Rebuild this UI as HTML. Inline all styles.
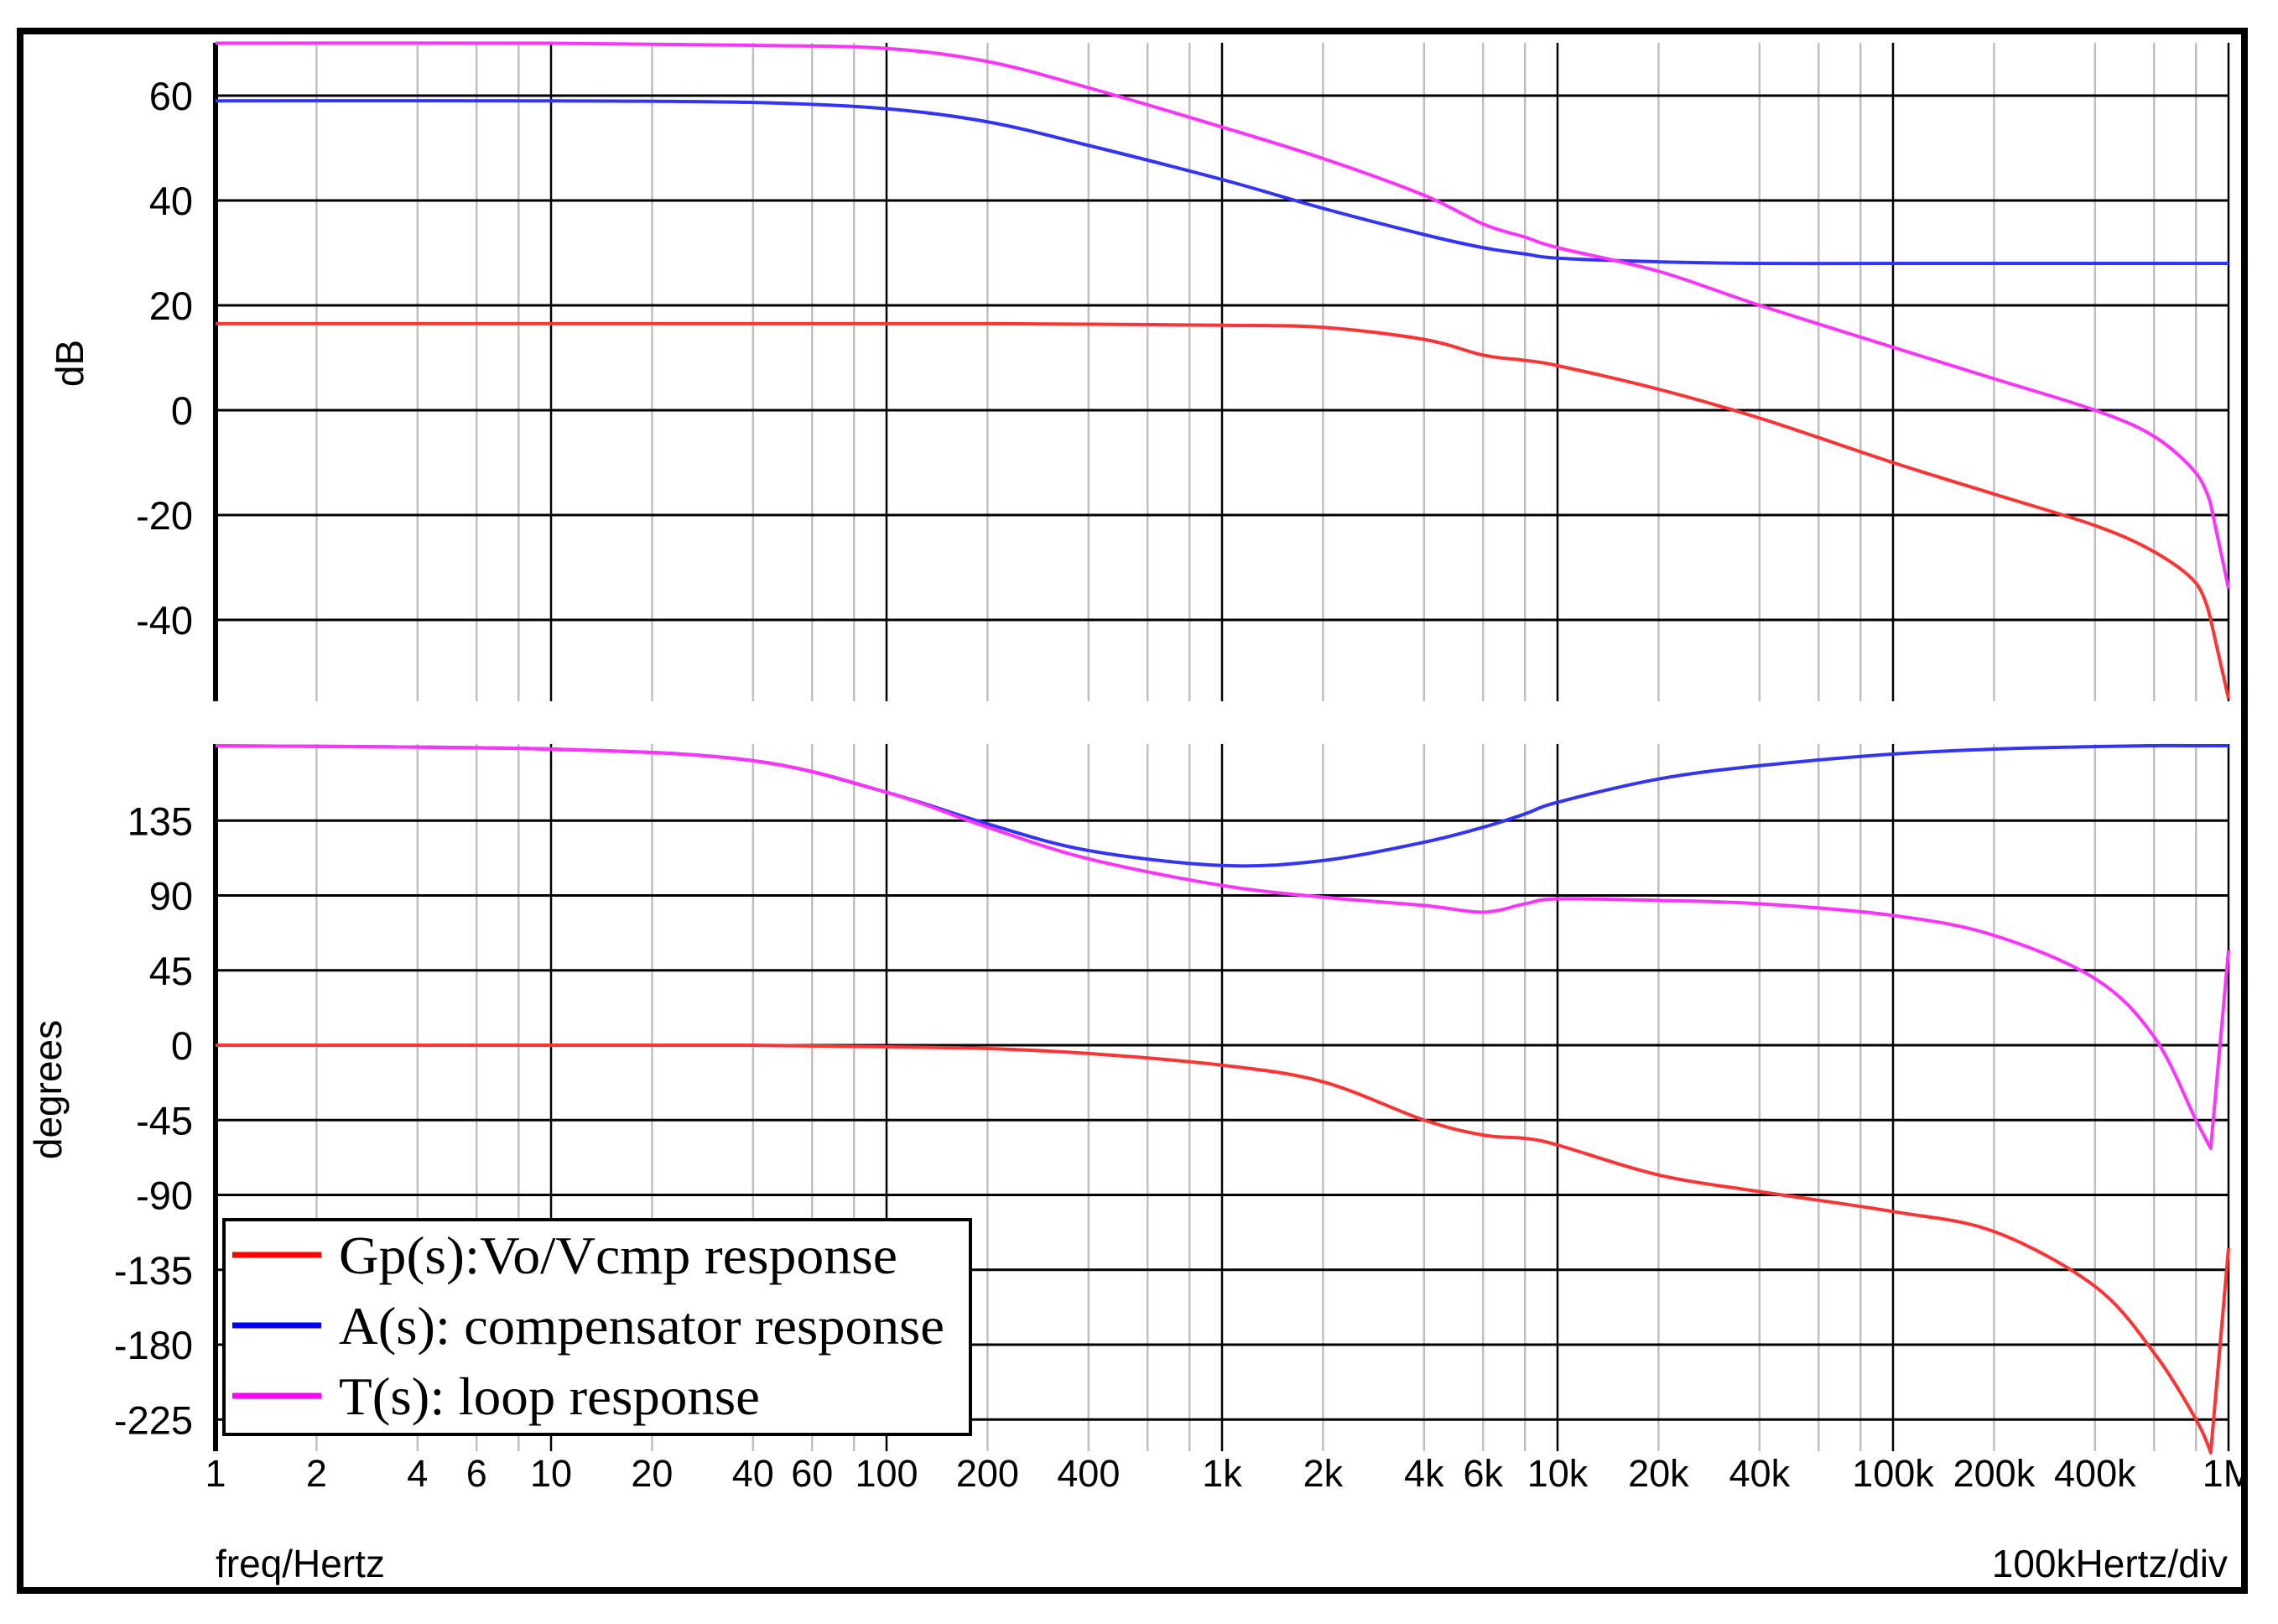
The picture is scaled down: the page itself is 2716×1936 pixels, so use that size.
<!DOCTYPE html>
<html><head><meta charset="utf-8"><style>
html,body{margin:0;padding:0;background:#fff;}
svg{display:block;}
text{font-family:"Liberation Sans",sans-serif;}
</style></head><body>
<svg id="chart" width="2716" height="1936" viewBox="0 0 2716 1936" xmlns="http://www.w3.org/2000/svg">
<defs><clipPath id="frameClip"><rect x="28" y="41" width="2644" height="1851"/></clipPath></defs>
<g id="root" clip-path="url(#frameClip)"></g>
<rect x="24" y="37" width="2652" height="1859" fill="none" stroke="#000" stroke-width="8"/>
</svg>
<script>
// ---- data ----
const freqs = [1,10,40,100,200,400,1000,2000,4000,6000,8000,10000,20000,40000,100000,200000,400000,600000,800000,885000,1000000];
const magT  = [70,70,69.6,69,66.5,61.5,54,48,41,35.5,33,31,26.5,20,12,6,0,-5,-12,-18,-34];
const magA  = [59,59,58.7,57.5,55,50.5,44,38.5,33.5,31,29.8,29,28.3,28,28,28,28,28,28,28,28];
const magG  = [16.5,16.5,16.5,16.5,16.5,16.4,16.2,15.8,13.5,10.5,9.5,8.5,4,-1.5,-10,-16,-22,-27,-33,-40,-55];
const phA   = [180,178,171,152,133,117,108,111,122,131,139,146,160,168,175,178,179.5,180,180,180,180];
const phT   = [180,178,171,152,131,112,96,89,84,80,85,88,87,85,78,66,40,5,-45,-62,57];
const phG   = [0,0,0,-1,-2,-5,-12,-22,-45,-54,-56,-60,-78,-88,-100,-112,-145,-185,-225,-245,-122];
const xTickLabels = ["1","2","4","6","10","20","40","60","100","200","400","1k","2k","4k","6k","10k","20k","40k","100k","200k","400k","1M"];
const xTickValues = [1,2,4,6,10,20,40,60,100,200,400,1000,2000,4000,6000,10000,20000,40000,100000,200000,400000,1000000];
const dbTicks = [60,40,20,0,-20,-40];
const degTicks = [135,90,45,0,-45,-90,-135,-180,-225];
const legendLabels = ["Gp(s):Vo/Vcmp response","A(s): compensator response","T(s): loop response"];
const colors = {G:"#ff3333",A:"#3333ff",T:"#ff33ff"};

// ---- axes ----
const X0=257, DEC=400;
const xs = f => X0 + Math.log10(f)*DEC;
const yMag = v => 489 - v*6.25;
const yPh = v => 1246 - v*89.25/45;
const NS="http://www.w3.org/2000/svg";
const root=document.getElementById('root');
function el(tag,attrs,parent){const e=document.createElementNS(NS,tag);for(const k in attrs)e.setAttribute(k,attrs[k]);(parent||root).appendChild(e);return e;}
function path(vals,yf){
  const p=freqs.map((f,i)=>[xs(f),yf(vals[i])]);
  let d="M"+p[0][0]+","+p[0][1];
  for(let i=0;i<p.length-1;i++){
    const p0=p[Math.max(0,i-1)],p1=p[i],p2=p[i+1],p3=p[Math.min(p.length-1,i+2)];
    const t=(i>=p.length-2)?0:1/6;
    const c1=[p1[0]+(p2[0]-p0[0])*t,p1[1]+(p2[1]-p0[1])*t];
    const t2=(i>=p.length-3)?0:1/6;
    const c2=[p2[0]-(p3[0]-p1[0])*t2,p2[1]-(p3[1]-p1[1])*t2];
    d+=` C${c1[0]},${c1[1]} ${c2[0]},${c2[1]} ${p2[0]},${p2[1]}`;
  }
  return d;
}
function grid(top,bot,hVals,yf,name){
  const g=el('g',{});
  
  
  for(let d=0;d<6;d++)for(const m of [2,4,6,8]){
    const x=xs(Math.pow(10,d)*m);
    const l=el('line',{x1:x,x2:x,y1:top,y2:bot,stroke:"#c0c0c0","stroke-width":2.5},g);
    
    
  }
  for(let d=1;d<=6;d++){
    const x=xs(Math.pow(10,d));
    const l=el('line',{x1:x,x2:x,y1:top,y2:bot,stroke:"#000","stroke-width":2.5},g);
    
    
  }
  hVals.forEach(v=>{
    const y=yf(v);
    const l=el('line',{x1:X0,x2:xs(1e6),y1:y,y2:y,stroke:"#000","stroke-width":3},g);
    
    
    const t=el('text',{x:230,y:y+17,"text-anchor":"end","font-size":47,fill:"#000"},g);
    t.textContent=v;
    
    
  });
  const ax=el('line',{x1:X0,x2:X0,y1:top,y2:bot,stroke:"#000","stroke-width":6},g);
  
  
}
grid(51,836,dbTicks,yMag,'magnitude');
grid(887,1730,degTicks,yPh,'phase');

function series(vals,yf,col,name){
  const p=el('path',{d:path(vals,yf),fill:"none",stroke:col,"stroke-width":4,"stroke-linejoin":"round"});
  
  
}
series(magG,yMag,colors.G,'gp-magnitude-line');
series(magA,yMag,colors.A,'a-magnitude-line');
series(magT,yMag,colors.T,'t-magnitude-line');
series(phG,yPh,colors.G,'gp-phase-line');
series(phA,yPh,colors.A,'a-phase-line');
series(phT,yPh,colors.T,'t-phase-line');

xTickLabels.forEach((s,i)=>{
  const t=el('text',{x:xs(xTickValues[i]),y:1772,"text-anchor":"middle","font-size":45,fill:"#000"});
  t.textContent=s;
  
  
});

function label(txt,attrs,name){const t=el('text',attrs);t.textContent=txt;}
label("freq/Hertz",{x:257,y:1880,"font-size":46,fill:"#000"},'x-axis-title');
label("100kHertz/div",{x:2656,y:1880,"font-size":46,fill:"#000","text-anchor":"end"},'x-scale-label');
label("dB",{x:0,y:0,"font-size":46,fill:"#000","text-anchor":"middle",transform:"translate(99,433) rotate(-90)"},'magnitude-y-axis-title');
label("degrees",{x:0,y:0,"font-size":46,fill:"#000","text-anchor":"middle",transform:"translate(73,1299) rotate(-90)"},'phase-y-axis-title');

// legend
const lg=el('g',{});


const lr=el('rect',{x:267,y:1454,width:890,height:256,fill:"#fff",stroke:"#000","stroke-width":4},lg);


const lcol=["#ff0000","#0000ff","#ff00ff"];
const widths=[666,722,502];
legendLabels.forEach((s,i)=>{
  const yb=1518+i*84;
  const l=el('line',{x1:277,x2:383,y1:yb-22,y2:yb-22,stroke:lcol[i],"stroke-width":7},lg);
  
  
  const t=el('text',{x:404,y:yb,"font-size":64,fill:"#000",textLength:widths[i],lengthAdjust:"spacingAndGlyphs",style:"font-family:'Liberation Serif',serif"},lg);
  t.textContent=s;
  
  
});
</script>
</body></html>
